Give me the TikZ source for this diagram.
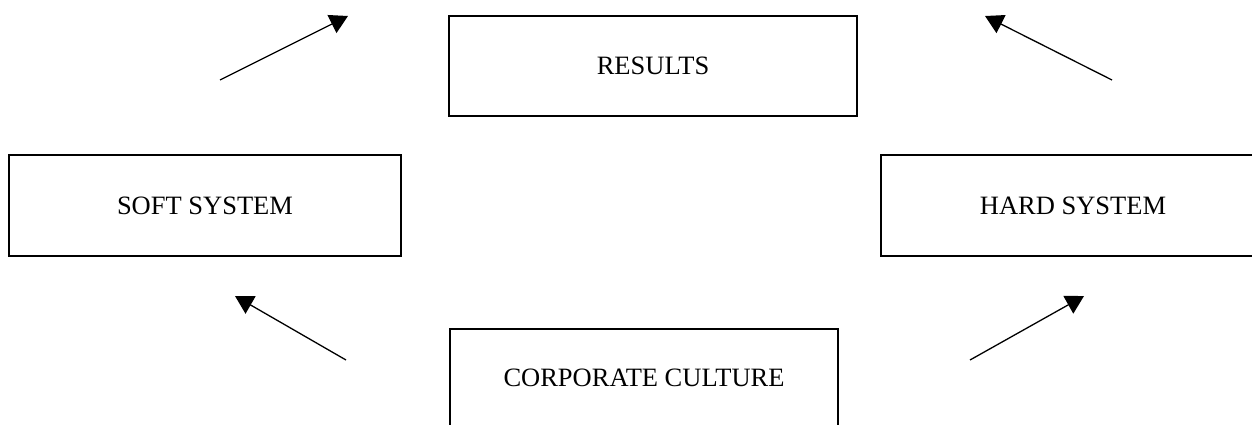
\documentclass[tikz,border=0pt]{standalone}
\usepackage{fontspec}
\setmainfont{Liberation Serif}
\usetikzlibrary{arrows.meta}

\tikzset{
  sysbox/.style={draw, line width=2pt, minimum width=392pt, minimum height=101pt,
    font=\fontsize{26.5}{32}\selectfont},
  flow/.style={line width=1.3pt, -{Triangle[length=18pt,width=20pt]}}
}

\begin{document}
\begin{tikzpicture}[x=1pt,y=-1pt]
  \useasboundingbox (0,0) rectangle (1252,424);

  % the four boxes
  \node[sysbox, minimum width=408pt, minimum height=100pt] (results) at (653,66) {RESULTS};
  \node[sysbox] (soft) at (205,205.5) {SOFT SYSTEM};
  \node[sysbox, minimum width=384pt] (hard) at (1073,205.5) {HARD SYSTEM};
  \node[sysbox, minimum width=388pt, minimum height=97pt] (culture) at (644,377.5) {CORPORATE CULTURE};

  % loose ends of the arrows
  \coordinate (softOut) at (220,80);
  \coordinate (softTip) at (348,16);
  \coordinate (hardOut) at (1112,80);
  \coordinate (hardTip) at (985,16);
  \coordinate (cultL) at (346,360);
  \coordinate (cultLTip) at (235,296);
  \coordinate (cultR) at (970,360);
  \coordinate (cultRTip) at (1084,296);

  \draw[flow] (softOut) -- (softTip);
  \draw[flow] (hardOut) -- (hardTip);
  \draw[flow] (cultL) -- (cultLTip);
  \draw[flow] (cultR) -- (cultRTip);
\end{tikzpicture}
\end{document}
